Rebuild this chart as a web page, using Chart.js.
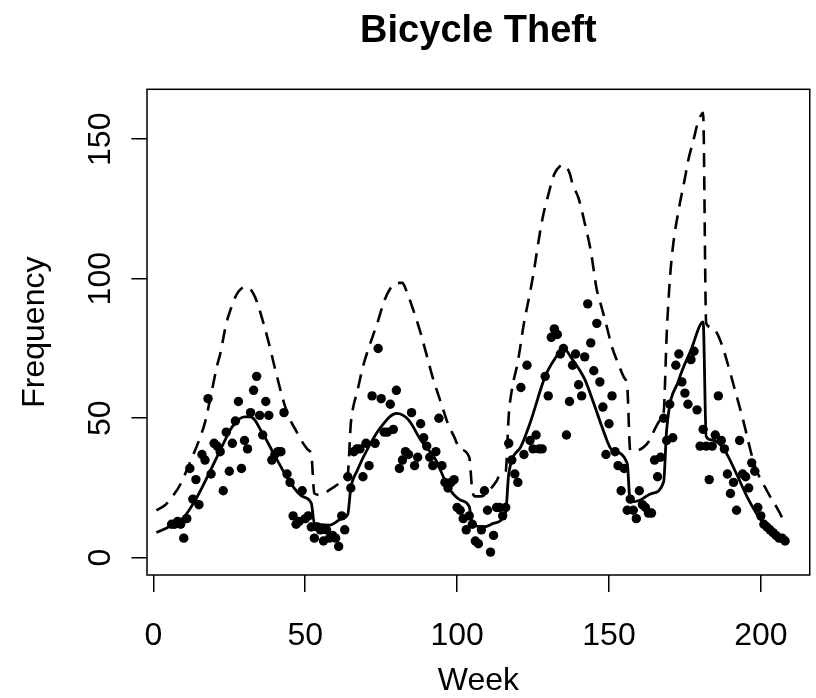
<!DOCTYPE html>
<html>
<head>
<meta charset="utf-8">
<title>Bicycle Theft</title>
<script src="https://cdn.jsdelivr.net/npm/chart.js@4.4.1/dist/chart.umd.min.js"></script>
<style>
    html, body { margin: 0; padding: 0; background: #fff; }
    canvas { display: block; }
</style>
</head>
<body>
<canvas id="chartCanvas" width="816" height="698"></canvas>
<script>
// observed weekly counts, starting at week 6
const firstWeek = 6;
const theftCounts = [
    12, 12, 13, 12, 7, 14, 32, 21, 28, 19, 37, 35, 57, 30, 41, 40, 38, 24, 45, 31,   // 6-25
    41, 49, 56, 32, 42, 39, 52, 60, 65, 51, 44, 56, 51, 35, 37, 38, 38, 52, 30, 27,   // 26-45
    15, 12, 13, 24, 14, 15, 11, 7, 11, 10, 6, 10, 7, 8, 7, 4, 15, 10, 29, 25,          // 46-65
    38, 39, 39, 29, 41, 33, 58, 41, 75, 57, 45, 45, 55, 46, 60, 32, 35, 38, 37, 52,   // 66-85
    33, 36, 48, 43, 40, 36, 33, 38, 50, 33, 27, 25, 27, 28, 18, 17, 14, 10, 15, 12,   // 86-105
    6, 5, 10, 24, 17, 2, 8, 18, 18, 15, 18, 41, 35, 30, 27, 61, 37, 69, 42, 39,        // 106-125
    44, 39, 39, 65, 58, 79, 82, 80, 73, 75, 44, 56, 69, 73, 62, 58, 72, 91, 77, 67,   // 126-145
    84, 63, 54, 37, 48, 58, 38, 33, 24, 32, 17, 21, 17, 14, 24, 19, 18, 16, 16, 35,   // 146-165
    29, 36, 50, 42, 55, 43, 69, 73, 63, 59, 55, 71, 74, 53, 40, 46, 40, 28, 40, 44,   // 166-185
    58, 42, 39, 30, 23, 27, 17, 42, 30, 29, 25, 34, 31, 18, 15, 12, 11, 10, 9, 8,     // 186-205
    7, 7, 6                                                                           // 206-208
];

// fitted mean (solid line)
const fitWeeks = [1, 5, 10, 14, 18, 22, 26, 30, 32, 36, 40, 45, 49, 52, 53, 58, 62, 64, 65, 67,
    71, 75, 80, 84, 88, 93, 97, 101, 104, 105, 109, 112, 116, 117, 121, 124, 129, 132, 135, 138,
    142, 145, 148, 151, 156, 157, 160, 164, 168, 169, 173, 177, 181, 182, 184, 188, 192, 196, 200, 204, 208];
const fitValues = [9, 11, 14.5, 21, 29.5, 38.5, 47, 50.5, 50.5, 44.5, 36.5, 27, 22, 19.5, 12.3, 11.7, 14, 15.5, 25, 31,
    40, 47, 51.7, 49.4, 42.2, 35, 25.4, 20.7, 18.3, 11.7, 11.1, 12.3, 16.5, 30, 39.8, 48.2, 65, 71, 75, 71,
    64, 55.3, 46, 38.6, 33.8, 20, 20.5, 23, 27.2, 46, 63.7, 74.4, 84.5, 43.4, 42.2, 38.6, 30, 20.7, 13.5, 8.7, 6.3];

// upper bound (dashed line)
const upperWeeks = [1, 4, 7, 9, 12, 15, 17, 19, 21, 22, 24, 25, 27, 29, 31, 33, 34, 36, 38, 40,
    43, 45, 47, 49, 51, 52, 53, 55, 58, 61, 63, 64, 65, 66, 67, 69, 71, 74, 76, 78,
    80, 82, 83, 85, 88, 90, 92, 95, 97, 99, 101, 104, 105, 106, 108, 110, 113, 114, 116, 117,
    118, 120, 122, 124, 125, 128, 130, 132, 134, 135, 137, 138, 140, 142, 144, 146, 147, 149, 151, 153,
    155, 156, 157, 159, 161, 163, 166, 167, 168, 169, 170, 171, 173, 175, 176, 178, 179, 180, 181, 182,
    184, 186, 188, 191, 194, 198, 202, 206, 208];
const upperValues = [17, 19, 23, 26.5, 34, 42, 48.5, 58.5, 69, 73, 84, 87.6, 93.5, 96.5, 97, 94.5, 92, 85, 77, 68,
    55.5, 49.5, 45.5, 41.5, 38.6, 37, 23, 22.5, 24.3, 26.5, 28.5, 30, 48, 55, 59, 68.5, 75.5, 85, 92, 96.5,
    98.5, 98.5, 96.5, 90.6, 80.5, 72.5, 64.5, 54.5, 48, 43.4, 39, 36, 24, 22, 22, 23.5, 27.5, 29.5, 31, 51,
    60, 70.3, 84, 95, 101, 121, 130, 137.5, 140.5, 140.8, 138, 134, 128.8, 120, 110, 96, 92, 84, 75.5, 69.7,
    64.5, 61.5, 38.5, 38.5, 39.3, 41.5, 48, 49.5, 52, 80, 99, 111, 125, 136, 142, 150.5, 155, 158, 159.5, 84,
    82.5, 79.5, 73.5, 62, 50, 33, 24, 16.5, 12];

const xTicks = [0, 50, 100, 150, 200];
const yTicks = [0, 50, 100, 150];

const fontFamily = "'Liberation Sans', Arial, Helvetica, sans-serif";

const toPoints = (xs, ys) => xs.map((x, i) => ({ x: x, y: ys[i] }));
const countPoints = theftCounts.map((v, i) => ({ x: firstWeek + i, y: v }));

// R-style closed box around the plot region
const boxPlugin = {
    id: 'plotBox',
    afterDraw(chart) {
        const { ctx, chartArea } = chart;
        ctx.save();
        ctx.strokeStyle = '#000';
        ctx.lineWidth = 1.5;
        ctx.strokeRect(chartArea.left, chartArea.top, chartArea.right - chartArea.left, chartArea.bottom - chartArea.top);
        ctx.restore();
    }
};

const ctx = document.getElementById('chartCanvas').getContext('2d');
const chart = new Chart(ctx, {
    type: 'scatter',
    data: {
        datasets: [{
            label: 'Observed',
            data: countPoints,
            backgroundColor: '#000',
            borderWidth: 0,
            pointRadius: 4.7,
            pointHoverRadius: 4.7
        }, {
            label: 'Fitted',
            data: toPoints(fitWeeks, fitValues),
            showLine: true,
            borderColor: '#000',
            borderWidth: 2.8,
            borderJoinStyle: 'round',
            pointRadius: 0,
            cubicInterpolationMode: 'monotone',
            fill: false
        }, {
            label: 'Upper',
            data: toPoints(upperWeeks, upperValues),
            showLine: true,
            borderColor: '#000',
            borderWidth: 2.6,
            borderDash: [14, 9],
            pointRadius: 0,
            cubicInterpolationMode: 'monotone',
            fill: false
        }]
    },
    options: {
        responsive: false,
        animation: false,
        devicePixelRatio: 1,
        layout: {
            padding: { left: 0, right: 1.5, top: 0, bottom: 0 }
        },
        scales: {
            x: {
                type: 'linear',
                min: -2.1,
                max: 216.1,
                afterBuildTicks: (scale) => { scale.ticks = xTicks.map(v => ({ value: v })); },
                afterFit: (scale) => { scale.height = 123; },
                grid: {
                    display: true,
                    drawOnChartArea: false,
                    drawTicks: true,
                    tickLength: 17,
                    color: '#000',
                    lineWidth: 1.5
                },
                border: { display: false },
                ticks: {
                    color: '#000',
                    padding: 28,
                    maxRotation: 0,
                    autoSkip: false,
                    font: { family: fontFamily, size: 32, lineHeight: 1 }
                },
                title: {
                    display: true,
                    text: 'Week',
                    color: '#000',
                    padding: { top: 0, bottom: 1 },
                    font: { family: fontFamily, size: 32, lineHeight: 1 }
                }
            },
            y: {
                type: 'linear',
                min: -6.2,
                max: 167.9,
                afterBuildTicks: (scale) => { scale.ticks = yTicks.map(v => ({ value: v })); },
                afterFit: (scale) => { scale.width = 147; },
                grid: {
                    display: true,
                    drawOnChartArea: false,
                    drawTicks: true,
                    tickLength: 15.6,
                    color: '#000',
                    lineWidth: 1.5
                },
                border: { display: false },
                ticks: {
                    color: '#000',
                    padding: 4,
                    minRotation: 90,
                    maxRotation: 90,
                    crossAlign: 'center',
                    autoSkip: false,
                    font: { family: fontFamily, size: 32, lineHeight: 1 }
                },
                title: {
                    display: true,
                    text: 'Frequency',
                    color: '#000',
                    padding: { top: 19, bottom: 0 },
                    font: { family: fontFamily, size: 32, lineHeight: 1 }
                }
            }
        },
        plugins: {
            legend: { display: false },
            tooltip: { enabled: false },
            title: {
                display: true,
                text: 'Bicycle Theft',
                color: '#000',
                fullSize: false,
                padding: { top: 12.5, bottom: 38.8 },
                font: { family: fontFamily, size: 38, weight: 'bold', lineHeight: 1 }
            }
        }
    },
    plugins: [boxPlugin]
});
</script>
</body>
</html>
